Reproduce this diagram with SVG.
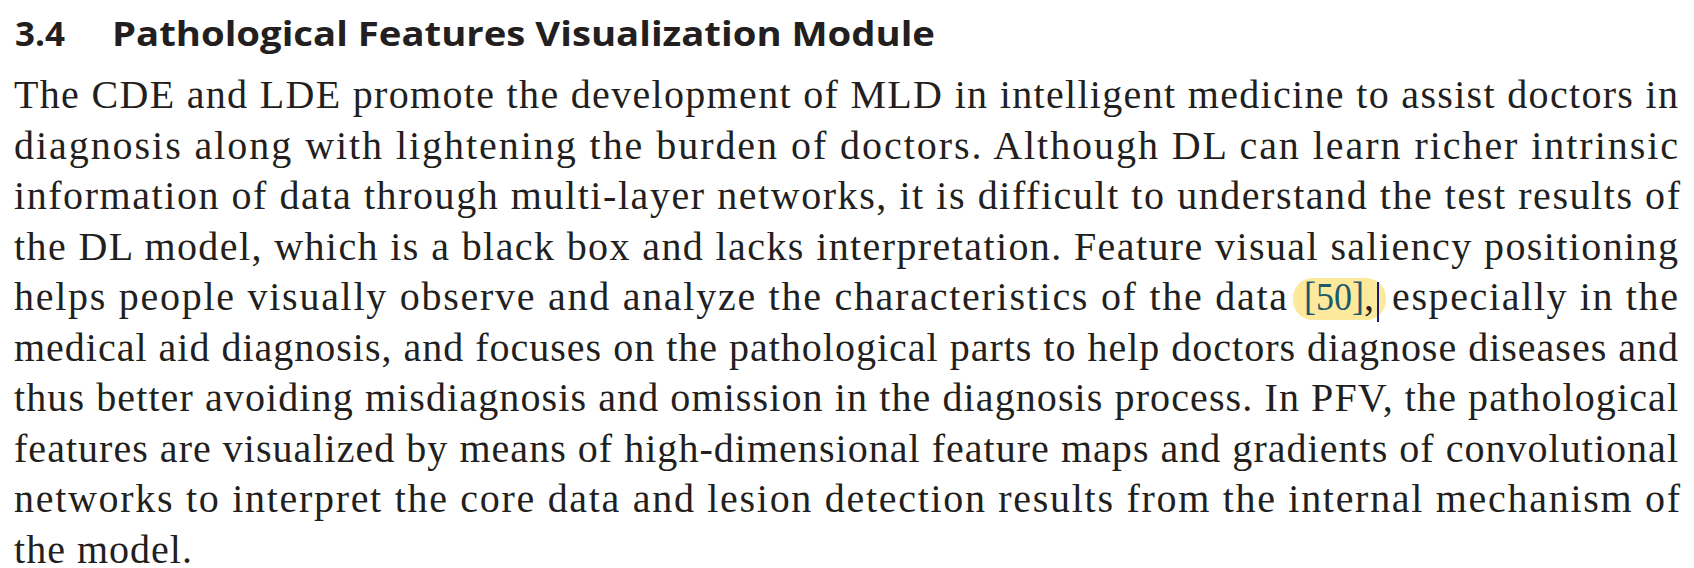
<svg xmlns="http://www.w3.org/2000/svg" width="1694" height="568" viewBox="0 0 1694 568">
<style>
.h{font-family:"Open Sans","Liberation Sans",sans-serif;font-weight:bold;font-size:34px;fill:#231f20}
.b{font-family:"Liberation Serif","DejaVu Serif",serif;font-size:40px;fill:#231f20}
.cite{fill:#1c5a6b}
</style>
<rect width="1694" height="568" fill="#ffffff"/>
<text class="h" x="15" y="46" textLength="50" lengthAdjust="spacingAndGlyphs">3.4</text>
<text class="h" x="112" y="46" textLength="823" lengthAdjust="spacingAndGlyphs">Pathological Features Visualization Module</text>
<text class="b" x="14" y="108" textLength="1664" lengthAdjust="spacing">The CDE and LDE promote the development of MLD in intelligent medicine to assist doctors in</text>
<text class="b" x="14" y="158.5" textLength="1664" lengthAdjust="spacing">diagnosis along with lightening the burden of doctors. Although DL can learn richer intrinsic</text>
<text class="b" x="14" y="209" textLength="1666" lengthAdjust="spacing">information of data through multi-layer networks, it is difficult to understand the test results of</text>
<text class="b" x="14" y="259.5" textLength="1664" lengthAdjust="spacing">the DL model, which is a black box and lacks interpretation. Feature visual saliency positioning</text>
<rect x="1293" y="278" width="93" height="42" rx="20" fill="#fde99c"/>
<text class="b" x="14" y="310" textLength="1273" lengthAdjust="spacing">helps people visually observe and analyze the characteristics of the data</text>
<text class="b cite" x="1304" y="310" textLength="60" lengthAdjust="spacingAndGlyphs">[50]</text>
<text class="b" x="1364" y="310">,</text>
<line x1="1378" y1="282" x2="1378" y2="322" stroke="#1a1a7a" stroke-width="2"/>
<text class="b" x="1392" y="310" textLength="286" lengthAdjust="spacing">especially in the</text>
<text class="b" x="14" y="360.5" textLength="1664" lengthAdjust="spacing">medical aid diagnosis, and focuses on the pathological parts to help doctors diagnose diseases and</text>
<text class="b" x="14" y="411" textLength="1664" lengthAdjust="spacing">thus better avoiding misdiagnosis and omission in the diagnosis process. In PFV, the pathological</text>
<text class="b" x="14" y="461.5" textLength="1664" lengthAdjust="spacing">features are visualized by means of high-dimensional feature maps and gradients of convolutional</text>
<text class="b" x="14" y="512" textLength="1666" lengthAdjust="spacing">networks to interpret the core data and lesion detection results from the internal mechanism of</text>
<text class="b" x="14" y="562.5" textLength="178" lengthAdjust="spacing">the model.</text>
</svg>
